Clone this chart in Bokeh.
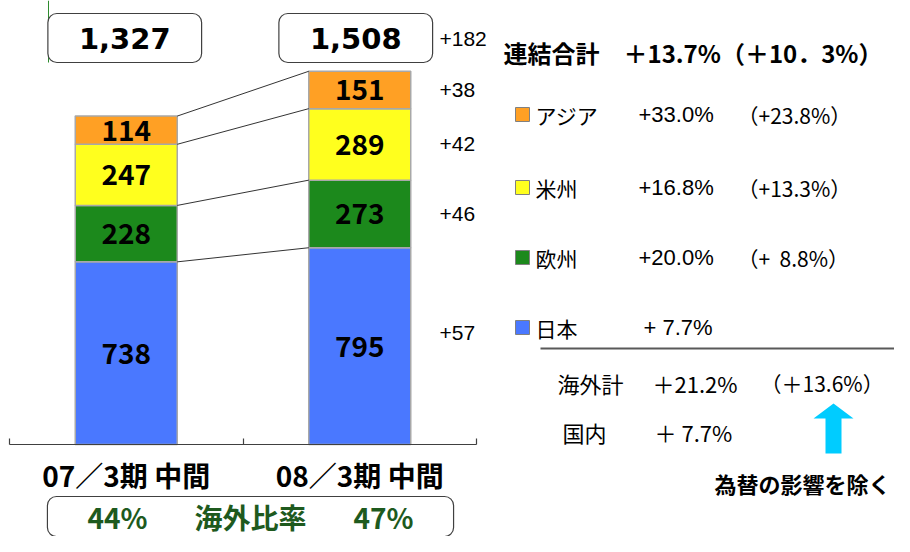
from bokeh.plotting import figure
from bokeh.models import Range1d, FixedTicker, Label, ColumnDataSource
from bokeh.core.properties import value
from bokeh.embed import file_html
from bokeh.resources import INLINE

# ---------------- data ----------------
periods = ["07／3期 中間", "08／3期 中間"]
regions = ["日本", "欧州", "米州", "アジア"]          # bottom -> top
japan = [738, 795]
europe = [228, 273]
america = [247, 289]
asia = [114, 151]
totals = ["1,327", "1,508"]
total_diff = "+182"
diff_labels = ["+57", "+46", "+42", "+38"]          # same order as regions
region_colors = ["#4A78FF", "#1C891C", "#FFFF1E", "#FFA024"]

legend_names = ["アジア", "米州", "欧州", "日本"]
legend_growth = ["+33.0%", "+16.8%", "+20.0%", "+ 7.7%"]
legend_growth_fx = ["（+23.8%）", "（+13.3%）", "（+\u00a0\u00a08.8%）", ""]
headline = "連結合計　＋13.7%（＋10．3%）"
summary_names = ["海外計", "国内"]
summary_growth = ["＋21.2%", "＋ 7.7%"]
summary_growth_fx = ["（＋13.6%）", ""]
fx_note = "為替の影響を除く"
overseas_ratio = ["44%", "47%"]
ratio_title = "海外比率"

# ---------------- layout helpers ----------------
W, H = 894, 536
UX = 233.5      # px per category
UY = 0.2475     # px per unit of value
def dx(px):     # picture x -> data x
    return (px - 9) / UX
def dy(py):     # picture y -> data y
    return (444 - py) / UY

BW = 102 / UX
JP = value("Noto Sans CJK JP")
LS = value("Liberation Sans")

p = figure(width=W, height=H, x_range=Range1d(dx(0), dx(W)),
           y_range=Range1d(dy(H), dy(0)), output_backend="svg",
           toolbar_location=None, y_axis_location=None,
           min_border_left=0, min_border_right=0, min_border_top=0,
           min_border_bottom=0, outline_line_color=None)
p.grid.visible = False

# x axis at value 0: labels at category centres, ticks at category boundaries
ax = p.xaxis[0]
ax.fixed_location = 0
ax.ticker = FixedTicker(ticks=[0.5, 1.5], minor_ticks=[0, 1, 2])
ax.major_label_overrides = {0.5: periods[0], 1.5: periods[1]}
ax.bounds = (0, 2)
ax.axis_line_color = "#404040"
ax.axis_line_width = 1.2
ax.major_tick_in = 0
ax.major_tick_out = 0
ax.minor_tick_in = 6
ax.minor_tick_out = 0
ax.minor_tick_line_color = "#404040"
ax.minor_tick_line_width = 1.2
ax.major_label_standoff = 10
ax.major_label_text_font = "Noto Sans CJK JP"
ax.major_label_text_font_style = "bold"
ax.major_label_text_font_size = "28px"
ax.major_label_text_color = "#000000"

# ---------------- stacked bars ----------------
xs = [0.5, 1.5]
src = ColumnDataSource(dict(x=xs, 日本=japan, 欧州=europe, 米州=america, アジア=asia))
p.vbar_stack(regions, x="x", width=BW, source=src, fill_color=region_colors,
             line_color="#A8A8A8", line_width=1.5)

# segment labels
series = [japan, europe, america, asia]
lx, ly, lt = [], [], []
tops = [[], []]
for i in range(2):
    bottom = 0
    for s in series:
        lx.append(xs[i])
        ly.append(bottom + s[i] / 2)
        lt.append(str(s[i]))
        bottom += s[i]
        tops[i].append(bottom)
p.text(x=lx, y=ly, text=lt, text_align="center", text_baseline="middle",
       text_font=JP, text_font_style="bold", text_font_size="28px", text_color="#000000")

# connector lines between the two bars
p.segment(x0=[xs[0] + BW / 2] * 4, y0=tops[0], x1=[xs[1] - BW / 2] * 4, y1=tops[1],
          line_color="#333333", line_width=1)

# differences to the right of the second bar
mids_r = [t - s[1] / 2 for t, s in zip(tops[1], series)]
p.text(x=[dx(439)] * 4, y=mids_r, text=diff_labels, y_offset=[-13, 0, 0, 0],
       text_align="left", text_baseline="middle", text_font=LS,
       text_font_size="21px", text_color="#000000")
p.text(x=[dx(439)], y=[dy(38)], text=[total_diff], text_align="left",
       text_baseline="middle", text_font=LS, text_font_size="21px", text_color="#000000")

# total boxes
for i in range(2):
    p.add_layout(Label(x=xs[i], y=dy(37.5), x_offset=-1.5 - 2.5 * i, text=totals[i],
                       text_align="center", text_baseline="middle",
                       text_font="DejaVu Sans", text_font_style="bold",
                       text_font_size="29px", text_color="#000000",
                       border_line_color="#404040", border_line_width=1.2,
                       background_fill_color="white", border_radius=9,
                       padding=(31, 14)))

# thin green line at top left
p.segment(x0=[dx(48)], y0=[dy(0)], x1=[dx(48)], y1=[dy(62)], line_color="#2E8B2E", line_width=1)

# ---------------- right panel ----------------
p.text(x=[dx(503)], y=[dy(52)], text=[headline], text_align="left", text_baseline="middle",
       text_font=JP, text_font_style="bold", text_font_size="24px", text_color="#000000")

row_y = [dy(114), dy(187), dy(257), dy(327)]
legend_colors = [region_colors[regions.index(n)] for n in legend_names]
p.scatter(x=[dx(522)] * 4, y=row_y, marker="square", size=14,
          fill_color=legend_colors, line_color="#808080", line_width=1)
p.text(x=[dx(535)] * 4, y=row_y, text=legend_names, text_align="left", text_baseline="middle",
       text_font=JP, text_font_size="21px", text_color="#000000")
p.text(x=[dx(638), dx(638), dx(638), dx(643)], y=row_y, text=legend_growth, text_align="left",
       text_baseline="middle", text_font=LS, text_font_size="22px", text_color="#000000")
p.text(x=[dx(737)] * 4, y=row_y, text=legend_growth_fx, text_align="left", text_baseline="middle",
       text_font=JP, text_font_size="21px", text_color="#000000")

p.segment(x0=[dx(540)], y0=[dy(348)], x1=[dx(W)], y1=[dy(348)], line_color="#595959", line_width=2)

sum_y = [dy(382), dy(431)]
p.text(x=[dx(557), dx(562)], y=sum_y, text=summary_names, text_align="left", text_baseline="middle",
       text_font=JP, text_font_size="22px", text_color="#000000")
p.text(x=[dx(652), dx(654)], y=sum_y, text=summary_growth, text_align="left", text_baseline="middle",
       text_font=JP, text_font_size="22px", text_color="#000000")
p.text(x=[dx(760)], y=sum_y[:1], text=summary_growth_fx[:1], text_align="left", text_baseline="middle",
       text_font=JP, text_font_size="21px", text_color="#000000")

# cyan arrow
arrow_px = [(833, 403), (853, 418), (841, 418), (841, 453), (825, 453), (825, 418), (813, 418)]
p.patch(x=[dx(a) for a, b in arrow_px], y=[dy(b) for a, b in arrow_px],
        fill_color="#00CCFF", line_color=None)

p.text(x=[dx(714)], y=[dy(482)], text=[fx_note], text_align="left", text_baseline="middle",
       text_font=JP, text_font_style="bold", text_font_size="22px", text_color="#000000")

# overseas ratio box
gap = "\u3000\u00a0\u00a0\u00a0"
p.add_layout(Label(x=dx(250), y=dy(516),
                   text=overseas_ratio[0] + gap + ratio_title + gap + overseas_ratio[1],
                   text_align="center", text_baseline="middle",
                   text_font="Noto Sans CJK JP", text_font_style="bold", text_font_size="28px",
                   text_color="#1E5A1E", border_line_color="#404040", border_line_width=1.2,
                   background_fill_color="white", border_radius=9, padding=(40, 0)))

open("out.html", "w").write(file_html(p, INLINE))
